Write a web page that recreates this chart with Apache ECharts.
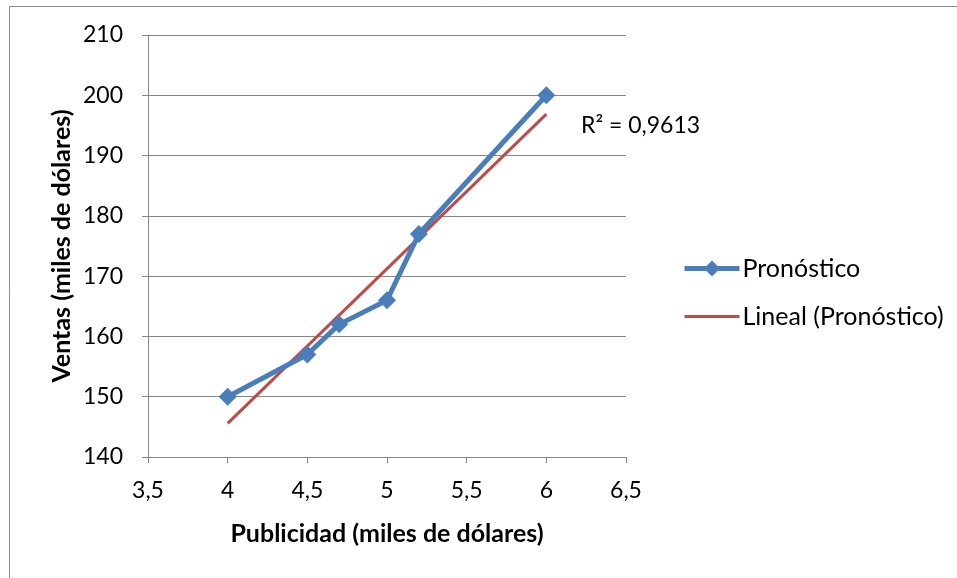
<!DOCTYPE html>
<html>
<head>
<meta charset="utf-8">
<script src="https://cdn.jsdelivr.net/npm/echarts@6/dist/echarts.min.js"></script>
<style>
  html, body { margin: 0; padding: 0; background: #ffffff; }
  #chart { width: 957px; height: 578px; }
</style>
</head>
<body>
<div id="chart"></div>
<script>
// Advertising spend vs. sales (thousands of dollars)
const publicidad = [4, 4.5, 4.7, 5, 5.2, 6];
const ventas = [150, 157, 162, 166, 177, 200];
const xTicks = [3.5, 4, 4.5, 5, 5.5, 6, 6.5];
const yTicks = [140, 150, 160, 170, 180, 190, 200, 210];

// Least-squares linear trend over the series
function linearFit(xs, ys) {
  const n = xs.length;
  const mx = xs.reduce((a, b) => a + b, 0) / n;
  const my = ys.reduce((a, b) => a + b, 0) / n;
  let sxy = 0, sxx = 0, syy = 0;
  for (let i = 0; i < n; i++) {
    sxy += (xs[i] - mx) * (ys[i] - my);
    sxx += (xs[i] - mx) * (xs[i] - mx);
    syy += (ys[i] - my) * (ys[i] - my);
  }
  const slope = sxy / sxx;
  return { slope, intercept: my - slope * mx, r2: (sxy * sxy) / (sxx * syy) };
}
const fit = linearFit(publicidad, ventas);
const xMinData = Math.min(...publicidad), xMaxData = Math.max(...publicidad);
const trend = [
  [xMinData, fit.intercept + fit.slope * xMinData],
  [xMaxData, fit.intercept + fit.slope * xMaxData]
];
const r2Text = 'R² = ' + fit.r2.toFixed(4).replace('.', ',');

const font = 'Lato, "Open Sans", sans-serif';
const fmt = v => String(v).replace('.', ',');
const axisGray = '#868686';
const blue = '#4a7ebb';
const red = '#be4b48';

const chart = echarts.init(document.getElementById('chart'));
chart.setOption({
  animation: false,
  backgroundColor: '#ffffff',
  textStyle: { fontFamily: font },
  grid: { left: 148, right: 331, top: 35, bottom: 121 },
  xAxis: {
    type: 'value',
    min: xTicks[0], max: xTicks[xTicks.length - 1], interval: 0.5,
    name: 'Publicidad (miles de dólares)',
    nameLocation: 'middle', nameGap: 64,
    nameTextStyle: { fontFamily: font, fontSize: 25, fontWeight: 'bold', color: '#000' },
    axisLine: { show: true, lineStyle: { color: axisGray, width: 1 } },
    axisTick: { show: true, length: 6, lineStyle: { color: axisGray } },
    axisLabel: { fontFamily: font, fontSize: 23, color: '#000', margin: 22, formatter: fmt },
    splitLine: { show: false }
  },
  yAxis: {
    type: 'value',
    min: yTicks[0], max: yTicks[yTicks.length - 1], interval: 10,
    name: 'Ventas (miles de dólares)',
    nameLocation: 'middle', nameGap: 74,
    nameTextStyle: { fontFamily: font, fontSize: 25, fontWeight: 'bold', color: '#000' },
    axisLine: { show: true, lineStyle: { color: axisGray, width: 1 } },
    axisTick: { show: true, length: 6, lineStyle: { color: axisGray } },
    axisLabel: { fontFamily: font, fontSize: 23, color: '#000', margin: 25 },
    splitLine: { show: true, lineStyle: { color: axisGray, width: 1 } }
  },
  legend: {
    orient: 'vertical',
    left: 677, top: 251,
    itemWidth: 55, itemHeight: 20, itemGap: 23,
    lineStyle: { width: 'inherit' },
    textStyle: { fontFamily: font, fontSize: 25, color: '#000', padding: [0, 0, 0, -2] },
    data: [
      { name: 'Pronóstico' },
      { name: 'Lineal (Pronóstico)', itemStyle: { opacity: 0 } }
    ]
  },
  series: [
    {
      name: 'Lineal (Pronóstico)',
      type: 'line',
      data: trend,
      showSymbol: false,
      symbol: 'none',
      lineStyle: { color: red, width: 3 },
      itemStyle: { color: red },
      z: 2
    },
    {
      name: 'Pronóstico',
      type: 'line',
      data: publicidad.map((x, i) => [x, ventas[i]]),
      symbol: 'diamond',
      symbolSize: 18,
      lineStyle: { color: blue, width: 5 },
      itemStyle: { color: blue },
      z: 3
    }
  ],
  graphic: [
    {
      type: 'rect',
      shape: { x: 9.5, y: 6.5, width: 960, height: 580 },
      style: { fill: 'none', stroke: '#8c8c8c', lineWidth: 1 },
      silent: true
    },
    {
      type: 'text',
      left: 581, top: 114,
      style: { text: r2Text, font: '23px ' + font, fill: '#000' }
    }
  ]
});
</script>
</body>
</html>
